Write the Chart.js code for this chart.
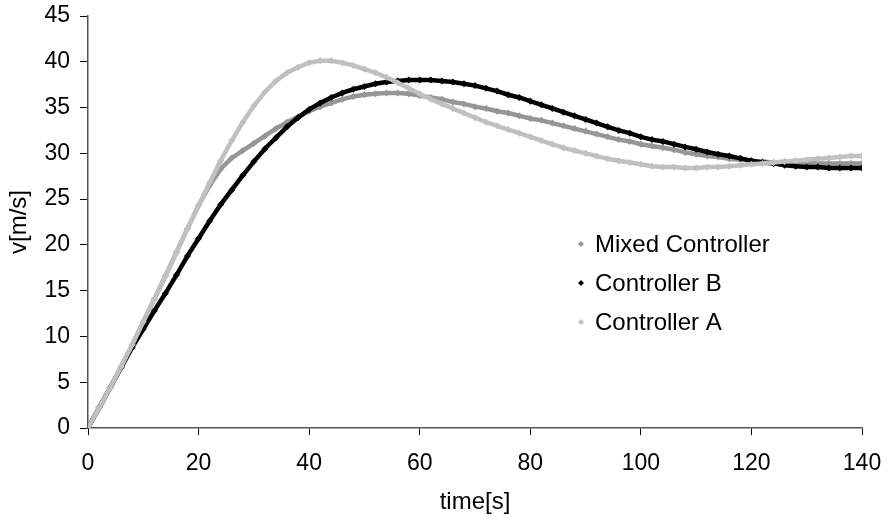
<!DOCTYPE html>
<html>
<head>
<meta charset="utf-8">
<script src="https://cdn.jsdelivr.net/npm/chart.js@4"></script>
<style>
  html, body { margin: 0; padding: 0; background: #fff; }
  #wrap { width: 892px; height: 521px; }
</style>
</head>
<body>
<div id="wrap"><canvas id="myChart" width="892" height="521"></canvas></div>
<script>
// sample times [s]
var timeS = [0, 2, 4, 6, 8, 10, 12, 14, 16, 18, 20, 22, 24, 26, 28, 30, 32, 34, 36, 38,
    40, 42, 44, 46, 48, 50, 52, 54, 56, 58, 60, 62, 64, 66, 68, 70, 72, 74, 76, 78,
    80, 82, 84, 86, 88, 90, 92, 94, 96, 98, 100, 102, 104, 106, 108, 110, 112, 114, 116, 118,
    120, 122, 124, 126, 128, 130, 132, 134, 136, 138, 140];

// speed [m/s] for each controller
var mixedController = [0, 2.2, 4.4, 6.7, 9.1, 11.6, 14.1, 16.6, 19.2, 21.8, 24.3, 26.5, 28.3, 29.5, 30.3, 31.1, 31.9, 32.7, 33.4, 34.0,
    34.6, 35.1, 35.5, 35.9, 36.2, 36.4, 36.5, 36.6, 36.6, 36.5, 36.3, 36.1, 35.9, 35.6, 35.4, 35.1, 34.9, 34.6, 34.4, 34.1,
    33.8, 33.6, 33.3, 33.0, 32.7, 32.4, 32.1, 31.8, 31.5, 31.3, 31.0, 30.8, 30.6, 30.4, 30.1, 29.9, 29.7, 29.6, 29.4, 29.3,
    29.2, 29.1, 29.0, 29.0, 29.0, 29.0, 28.9, 28.9, 28.9, 28.9, 28.9];

var controllerB = [0, 2.2, 4.4, 6.6, 8.8, 10.8, 12.8, 14.7, 16.7, 18.8, 20.7, 22.6, 24.4, 26.0, 27.6, 29.1, 30.5, 31.7, 32.9, 33.9,
    34.8, 35.5, 36.1, 36.6, 37.0, 37.3, 37.6, 37.8, 37.9, 38.0, 38.0, 38.0, 37.9, 37.8, 37.6, 37.4, 37.1, 36.8, 36.4, 36.1,
    35.7, 35.3, 34.9, 34.5, 34.1, 33.7, 33.3, 32.9, 32.5, 32.2, 31.8, 31.5, 31.3, 31.0, 30.7, 30.45, 30.15, 29.9, 29.7, 29.45,
    29.2, 29.0, 28.9, 28.7, 28.6, 28.5, 28.5, 28.4, 28.4, 28.4, 28.4];

var controllerA = [0, 2.2, 4.4, 6.7, 9.1, 11.6, 14.1, 16.6, 19.2, 21.8, 24.3, 26.8, 29.2, 31.4, 33.4, 35.2, 36.7, 37.9, 38.8, 39.4,
    39.9, 40.1, 40.1, 39.9, 39.6, 39.2, 38.8, 38.3, 37.7, 37.1, 36.5, 35.9, 35.4, 34.9, 34.4, 33.9, 33.4, 33.0, 32.6, 32.2,
    31.8, 31.4, 31.0, 30.6, 30.3, 30.0, 29.7, 29.4, 29.2, 29.0, 28.8, 28.6, 28.5, 28.5, 28.4, 28.4, 28.5, 28.5, 28.6, 28.7,
    28.8, 28.9, 29.0, 29.1, 29.2, 29.3, 29.4, 29.5, 29.6, 29.7, 29.7];

var xTicks = [0, 20, 40, 60, 80, 100, 120, 140];
var yTicks = [0, 5, 10, 15, 20, 25, 30, 35, 40, 45];

var FONT = 'Liberation Sans, Arial, sans-serif';

function toPoints(values) {
    return values.map(function (v, i) { return { x: timeS[i], y: v }; });
}

function series(label, values, color) {
    return {
        label: label,
        data: toPoints(values),
        borderColor: color,
        backgroundColor: color,
        borderWidth: 4.5,
        pointStyle: 'rectRot',
        pointRadius: 3.5,
        pointBorderWidth: 0,
        showLine: true,
        tension: 0
    };
}

// legend drawn inside the plot, listed top to bottom
var legendPlugin = {
    id: 'insideLegend',
    afterDraw: function (chart) {
        var c = chart.ctx, area = chart.chartArea;
        var order = [2, 1, 0];
        c.save();
        c.font = '24px ' + FONT;
        c.textBaseline = 'middle';
        order.forEach(function (idx, row) {
            var ds = chart.data.datasets[idx];
            var y = area.top + 228 + row * 39;
            var x = area.left + 493;
            c.fillStyle = ds.borderColor;
            c.beginPath();
            c.moveTo(x, y - 3); c.lineTo(x + 3, y); c.lineTo(x, y + 3); c.lineTo(x - 3, y);
            c.closePath();
            c.fill();
            c.fillStyle = '#000';
            c.fillText(ds.label, x + 14, y + 1);
        });
        c.restore();
    }
};

var ctx = document.getElementById('myChart').getContext('2d');
var myChart = new Chart(ctx, {
    type: 'scatter',
    data: {
        datasets: [
            series('Controller A', controllerA, '#c0c0c0'),
            series('Controller B', controllerB, '#000000'),
            series('Mixed Controller', mixedController, '#969696')
        ]
    },
    options: {
        responsive: false,
        animation: false,
        layout: { padding: { top: 16, right: 30, left: 0, bottom: 0 } },
        plugins: {
            legend: { display: false },
            tooltip: { enabled: false }
        },
        scales: {
            x: {
                type: 'linear',
                min: 0,
                max: 140,
                afterBuildTicks: function (s) { s.ticks = xTicks.map(function (v) { return { value: v }; }); },
                afterFit: function (s) { s.height = 93; s.paddingLeft = 0; s.paddingRight = 0; },
                grid: { drawOnChartArea: false, drawTicks: true, tickLength: 7, color: '#000' },
                border: { color: '#555', width: 1.5 },
                ticks: { color: '#000', font: { family: FONT, size: 23 }, padding: 15, maxRotation: 0 },
                title: { display: true, text: 'time[s]', color: '#000', font: { family: FONT, size: 24 }, padding: { top: 0, bottom: 4 } }
            },
            y: {
                type: 'linear',
                min: 0,
                max: 45,
                afterBuildTicks: function (s) { s.ticks = yTicks.map(function (v) { return { value: v }; }); },
                afterFit: function (s) { s.width = 88; s.paddingTop = 0; s.paddingBottom = 0; },
                grid: { drawOnChartArea: false, drawTicks: true, tickLength: 8, color: '#000' },
                border: { color: '#555', width: 1.5 },
                ticks: { color: '#000', font: { family: FONT, size: 23 }, padding: 10 },
                title: { display: true, text: 'v[m/s]', color: '#000', font: { family: FONT, size: 24 }, padding: { top: 5, bottom: 0 } }
            }
        }
    },
    plugins: [legendPlugin]
});
</script>
</body>
</html>
